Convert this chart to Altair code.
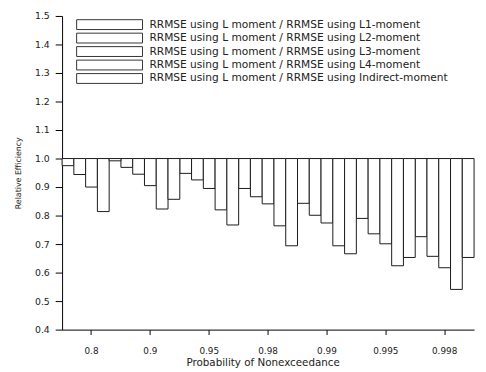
import altair as alt
import pandas as pd

categories = ["0.8", "0.9", "0.95", "0.98", "0.99", "0.995", "0.998"]
series = [
    "RRMSE using L moment / RRMSE using L1-moment",
    "RRMSE using L moment / RRMSE using L2-moment",
    "RRMSE using L moment / RRMSE using L3-moment",
    "RRMSE using L moment / RRMSE using L4-moment",
    "RRMSE using L moment / RRMSE using Indirect-moment",
]
l1_values = [0.975, 0.969, 0.948, 0.895, 0.843, 0.790, 0.726]
l2_values = [0.944, 0.945, 0.925, 0.866, 0.801, 0.736, 0.657]
l3_values = [0.900, 0.905, 0.895, 0.841, 0.774, 0.701, 0.617]
l4_values = [0.814, 0.823, 0.820, 0.764, 0.694, 0.624, 0.541]
indirect_values = [0.992, 0.857, 0.767, 0.694, 0.666, 0.653, 0.653]
y_ticks = [0.4, 0.5, 0.6, 0.7, 0.8, 0.9, 1.0, 1.1, 1.2, 1.3, 1.4, 1.5]

rows = []
for s, vals in zip(series, [l1_values, l2_values, l3_values, l4_values, indirect_values]):
    for c, v in zip(categories, vals):
        rows.append({"p": c, "series": s, "value": v, "base": 1.0})
df = pd.DataFrame(rows)

FONT = "DejaVu Sans"

chart = alt.Chart(df).mark_bar(stroke="#1a1a1a", strokeWidth=1).encode(
    x=alt.X(
        "p:N",
        sort=categories,
        scale=alt.Scale(paddingInner=0, paddingOuter=0),
        axis=alt.Axis(
            labelAngle=0, tickSize=5, labelPadding=12.5, domainColor="black",
            tickColor="black", labelFont=FONT, labelFontSize=9, labelColor="#222",
            titleFont=FONT, titleFontSize=10.5, titleFontWeight="normal",
            titleColor="#222", titleX=204, titleY=36, titleBaseline="alphabetic",
        ),
        title="Probability of Nonexceedance",
    ),
    xOffset=alt.XOffset("series:N", sort=series, scale=alt.Scale(paddingInner=0, paddingOuter=0)),
    y=alt.Y(
        "value:Q",
        scale=alt.Scale(domain=[0.4, 1.5], nice=False, zero=False),
        axis=alt.Axis(
            values=y_ticks, format=".1f", grid=False, tickSize=7, labelPadding=6,
            domainColor="black", tickColor="black", labelFont=FONT, labelFontSize=9.5,
            labelColor="#222", titleFont=FONT, titleFontSize=8, titleFontWeight="normal",
            titleColor="#222", titlePadding=12,
        ),
        title="Relative Efficiency",
    ),
    y2="base:Q",
    fill=alt.Fill(
        "series:N",
        sort=series,
        scale=alt.Scale(domain=series, range=["white"] * 5),
        legend=alt.Legend(
            title=None,
            orient="none",
            legendX=42.8,
            legendY=3.3,
            padding=0,
            symbolType="M-6.7,-1L6.7,-1L6.7,1L-6.7,1Z",
            symbolSize=100,
            symbolStrokeColor="#333",
            symbolStrokeWidth=1,
            symbolFillColor="white",
            labelFont=FONT,
            labelFontSize=10.8,
            labelColor="#222",
            labelOffset=35,
            rowPadding=-1.3,
            labelLimit=400,
        ),
    ),
).properties(
    width=419,
    height=319,
    autosize=alt.AutoSizeParams(type="none"),
    padding={"left": 55, "top": 5, "right": 4, "bottom": 40},
).configure_view(stroke=None)

chart.save("out.html", embed_options={"renderer": "svg", "actions": False})
